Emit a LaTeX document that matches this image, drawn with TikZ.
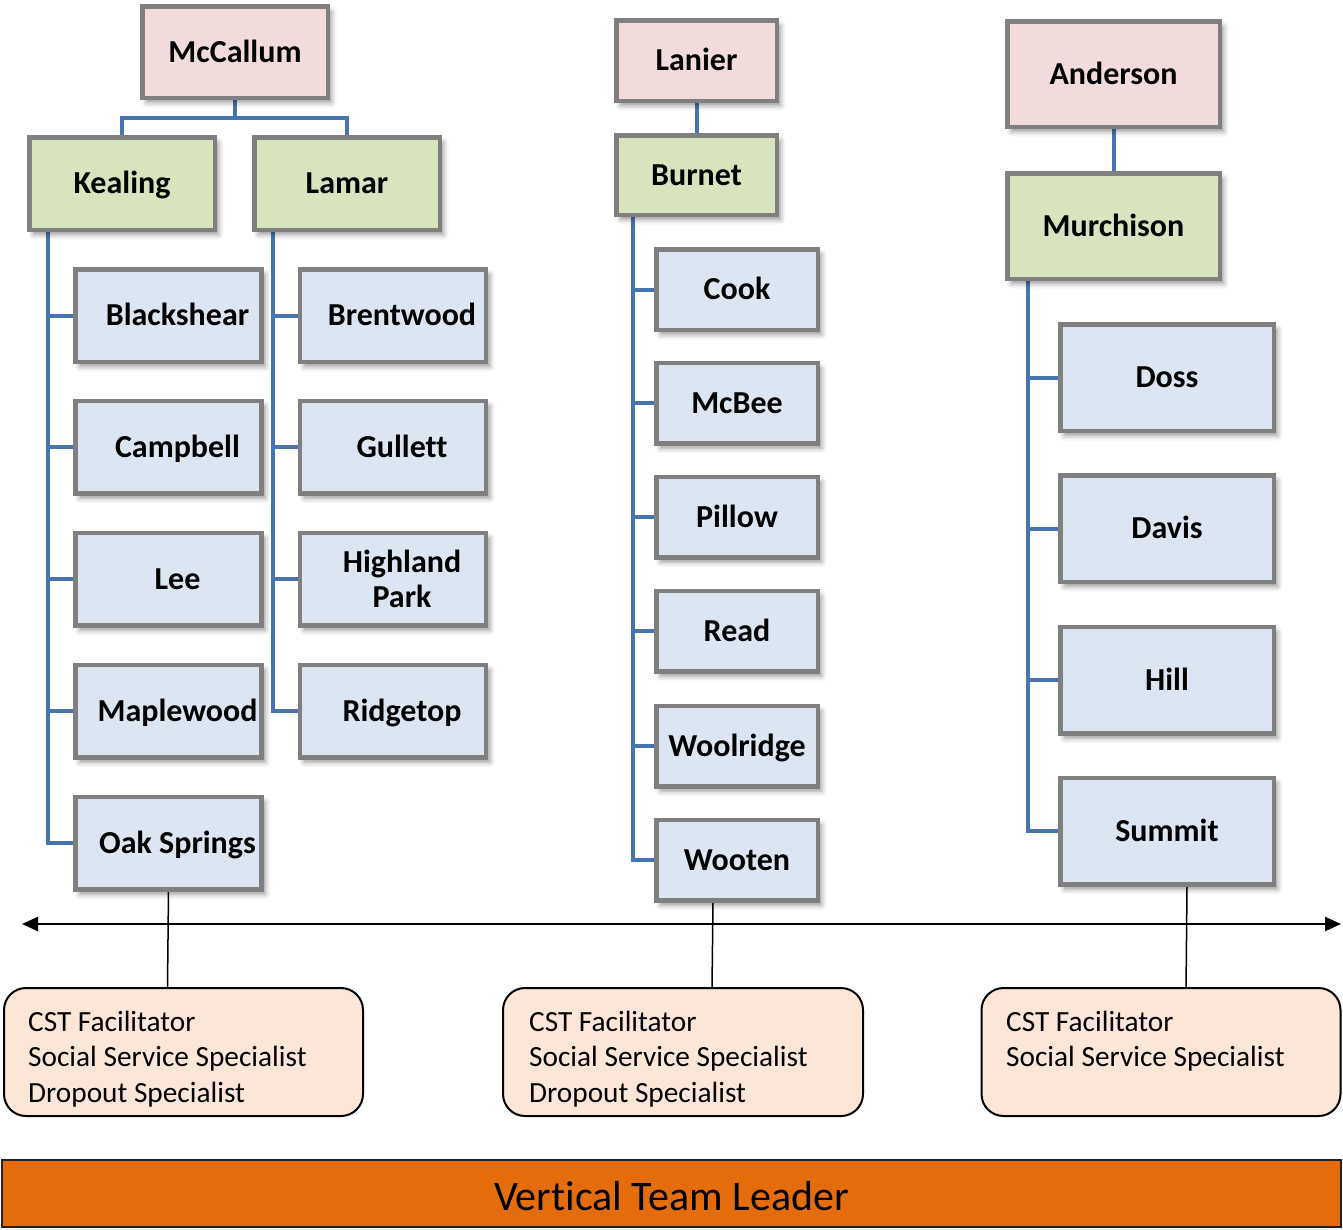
\documentclass[tikz,border=0pt]{standalone}
\usepackage{fontspec}
\setmainfont{Carlito}[Ligatures=NoCommon]
\usetikzlibrary{shadows.blur,backgrounds,arrows.meta,calc}
\definecolor{pinkfill}{HTML}{F2DCDB}
\definecolor{greenfill}{HTML}{D7E4BD}
\definecolor{bluefill}{HTML}{DCE6F2}
\definecolor{boxgray}{HTML}{7F7F7F}
\definecolor{connblue}{HTML}{4675B0}
\definecolor{peachfill}{HTML}{FCE6D7}
\definecolor{orangefill}{HTML}{E46C0A}
\definecolor{bardark}{HTML}{222222}
\tikzset{
  orgbox/.style={draw=boxgray, line width=4.5pt, inner sep=0pt,
    font=\fontsize{32}{34.5}\selectfont\bfseries,
    blur shadow={shadow xshift=4pt, shadow yshift=-5pt, shadow blur radius=5pt, shadow opacity=40}},
  capfix/.style={text height=20.6pt, text depth=0pt},
  topbox/.style={orgbox, capfix, fill=pinkfill},
  midbox/.style={orgbox, capfix, fill=greenfill},
  leafbox/.style={orgbox, fill=bluefill},
  conn/.style={draw=connblue, line width=4pt},
  thinline/.style={draw=black, line width=1.5pt},
  peachbox/.style={draw=black, line width=2pt, fill=peachfill, rounded corners=22pt, inner sep=0pt},
  peachtext/.style={align=left, inner sep=0pt, font=\fontsize{29.3}{35.5}\selectfont},
  kbox/.style={leafbox, capfix, minimum width=186pt, minimum height=92.5pt},
  bbox/.style={leafbox, capfix, minimum width=161.5pt, minimum height=80.5pt},
  mbox/.style={leafbox, capfix, minimum width=213.5pt, minimum height=106.5pt},
}
\begin{document}
\begin{tikzpicture}[x=1pt, y=-1pt]
\useasboundingbox (0,0) rectangle (1343,1229);

% --- McCallum group
\node[topbox, minimum width=185.5pt, minimum height=91.5pt] (mccallum) at (235,52) {McCallum};
\node[midbox, minimum width=185.5pt, minimum height=92.5pt] (kealing) at (122,183.5) {Kealing};
\node[midbox, minimum width=185.5pt, minimum height=92.5pt] (lamar) at (347,183.5) {Lamar};

\node[kbox] (blackshear) at (168.5,315.5) {\hspace*{18pt}Blackshear};
\node[kbox] (campbell) at (168.5,447) {\hspace*{18pt}Campbell};
\node[kbox] (lee) at (168.5,579) {\hspace*{18pt}Lee};
\node[kbox] (maplewood) at (168.5,711) {\hspace*{18pt}Maplewood};
\node[kbox] (oak) at (168.5,843) {\hspace*{18pt}Oak Springs};

\node[kbox] (brentwood) at (393,315.5) {\hspace*{18pt}Brentwood};
\node[kbox] (gullett) at (393,447) {\hspace*{18pt}Gullett};
\node[leafbox, minimum width=186pt, minimum height=92.5pt, align=center] (highland) at (393,579) {\hspace*{18pt}Highland\\\hspace*{18pt}Park};
\node[kbox] (ridgetop) at (393,711) {\hspace*{18pt}Ridgetop};

% --- Lanier group
\node[topbox, minimum width=160.5pt, minimum height=80.5pt] (lanier) at (696.5,60.5) {Lanier};
\node[midbox, minimum width=160.5pt, minimum height=79.5pt] (burnet) at (696.5,175) {Burnet};
\node[bbox] (cook) at (737,289.5) {Cook};
\node[bbox] (mcbee) at (737,403) {McBee};
\node[bbox] (pillow) at (737,517) {Pillow};
\node[bbox] (read) at (737,631) {Read};
\node[bbox] (woolridge) at (737,746) {Woolridge};
\node[bbox] (wooten) at (737,860) {Wooten};

% --- Anderson group
\node[topbox, minimum width=212.5pt, minimum height=105.5pt] (anderson) at (1113.5,74) {Anderson};
\node[midbox, minimum width=212.5pt, minimum height=105.5pt] (murchison) at (1113.5,226) {Murchison};
\node[mbox] (doss) at (1167,377.5) {Doss};
\node[mbox] (davis) at (1167,528.5) {Davis};
\node[mbox] (hill) at (1167,680) {Hill};
\node[mbox] (summit) at (1167,831) {Summit};

% --- staff boxes
\node[peachbox, minimum width=359pt, minimum height=128pt] (b1) at (183.5,1052) {};
\node[peachbox, minimum width=360pt, minimum height=128pt] (b2) at (683,1052) {};
\node[peachbox, minimum width=359pt, minimum height=128pt] (b3) at (1161,1052) {};
% base anchor = baseline of the last line
\node[peachtext, anchor=base west] (b1t) at (28,1102) {CST Facilitator\\Social Service Specialist\\Dropout Specialist};
\node[peachtext, anchor=base west] (b2t) at (529,1102) {CST Facilitator\\Social Service Specialist\\Dropout Specialist};
\node[peachtext, anchor=base west] (b3t) at (1006,1066.5) {CST Facilitator\\Social Service Specialist};

% --- bottom bar
\node[draw=bardark, fill=orangefill, line width=2pt, minimum width=1339pt, minimum height=67pt,
      inner sep=0pt, font=\fontsize{42}{44}\selectfont, text height=33pt, text depth=0pt] (vtl) at (671.5,1193.5) {Vertical Team Leader};

% --- double arrow
\coordinate (arL) at (22,924);
\coordinate (arR) at (1341,924);
\draw[line width=2.5pt, {Triangle[length=16pt,width=14pt]}-{Triangle[length=16pt,width=14pt]}] (arL) -- (arR);

% --- connectors
\begin{scope}[on background layer]
\draw[conn] (mccallum.south) -- ++(0,18) -| (kealing.north);
\draw[conn] (mccallum.south) -- ++(0,18) -| (lamar.north);
\coordinate (ktop) at (48,225);
\foreach \c in {blackshear,campbell,lee,maplewood,oak} \draw[conn] (ktop) |- (\c.west);
\coordinate (ltop) at (273,225);
\foreach \c in {brentwood,gullett,highland,ridgetop} \draw[conn] (ltop) |- (\c.west);
\draw[conn] (lanier.south) -- (burnet.north);
\coordinate (btop) at (633,210);
\foreach \c in {cook,mcbee,pillow,read,woolridge,wooten} \draw[conn] (btop) |- (\c.west);
\draw[conn] (anderson.south) -- (murchison.north);
\coordinate (mtop) at (1028,273);
\foreach \c in {doss,davis,hill,summit} \draw[conn] (mtop) |- (\c.west);

\draw[thinline] (oak.south) -- ($(oak.south |- b1.north)+(-1,0)$);
\draw[thinline] ($(wooten.south)+(-24,0)$) -- ($(wooten.south |- b2.north)+(-25,0)$);
\draw[thinline] ($(summit.south)+(20,0)$) -- ($(summit.south |- b3.north)+(19,4)$);
\end{scope}
\end{tikzpicture}
\end{document}
